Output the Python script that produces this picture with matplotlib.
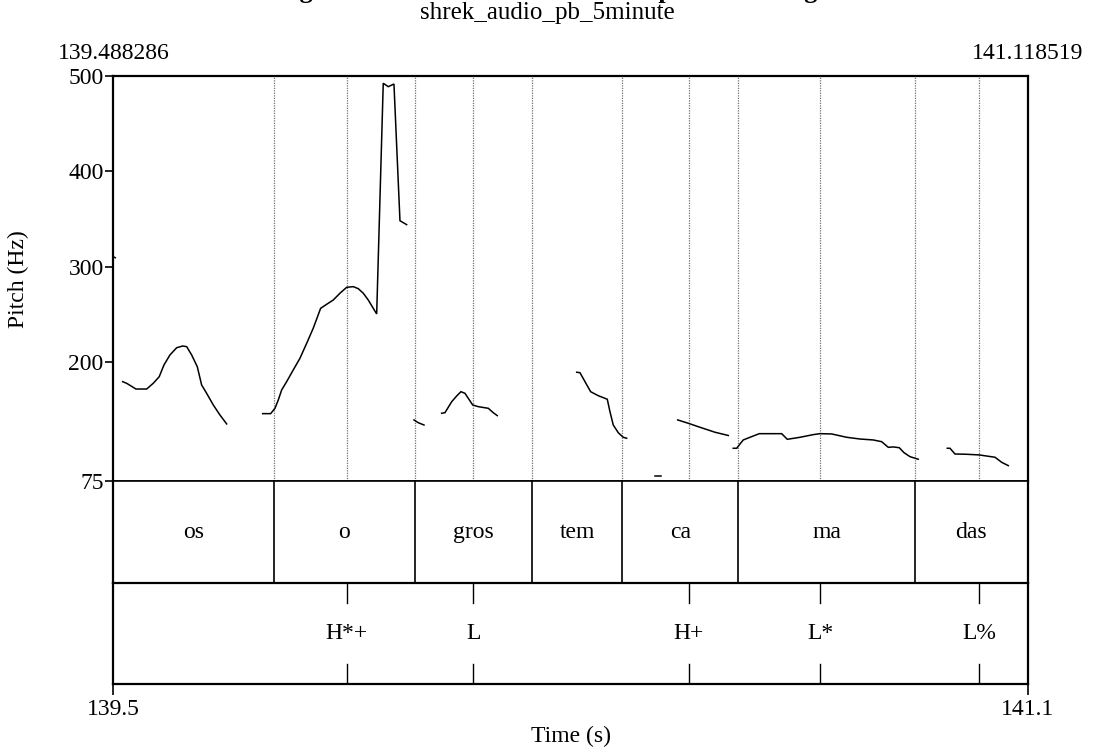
import matplotlib
matplotlib.use("Agg")
import matplotlib.pyplot as plt

plt.rcParams["font.family"] = ["Liberation Serif", "DejaVu Serif"]

# time range of the picture
t_start = 139.488286
t_end = 141.118519

# pitch track, one list pair per voiced stretch (time s, Hz)
seg_times = [
    [139.4883, 139.4915],
    [139.5047, 139.5118, 139.5284, 139.5475, 139.5592, 139.5699, 139.5783,
     139.5890, 139.6010, 139.6117, 139.6188, 139.6277, 139.6377, 139.6455,
     139.6544, 139.6662, 139.6781, 139.6901],
    [139.7543, 139.7685, 139.7762, 139.7821, 139.7881, 139.7970, 139.8088,
     139.8207, 139.8327, 139.8444, 139.8576, 139.8683, 139.8801, 139.8920,
     139.9040, 139.9158, 139.9247, 139.9336, 139.9425, 139.9514, 139.9575,
     139.9692, 139.9781, 139.9883, 139.9990, 140.0109],
    [140.0240, 140.0316, 140.0418],
    [140.0733, 140.0792, 140.0912, 140.1001, 140.1077, 140.1149, 140.1207,
     140.1286, 140.1386, 140.1564, 140.1653, 140.1724],
    [140.3140, 140.3199, 140.3288, 140.3389, 140.3525, 140.3685, 140.3733,
     140.3792, 140.3881, 140.3970, 140.4031],
    [140.4535, 140.4637],
    [140.4940, 140.5129, 140.5338, 140.5605, 140.5842],
    [140.5931, 140.5992, 140.6051, 140.6109, 140.6229, 140.6395, 140.6794,
     140.6894, 140.7120, 140.7357, 140.7477, 140.7685, 140.7953, 140.8190,
     140.8427, 140.8576, 140.8694, 140.8783, 140.8890, 140.8974, 140.9081,
     140.9229],
    [140.9746, 140.9794, 140.9883, 141.0092, 141.0316, 141.0596, 141.0715,
     141.0833],
]
seg_hz = [
    [310.5, 309.5],
    [179.6, 177.9, 171.9, 171.9, 177.9, 184.8, 197.1, 207.6, 215.2, 217.0,
     216.3, 207.6, 195.3, 176.1, 167.4, 155.2, 144.7, 135.3],
    [146.1, 146.1, 151.7, 160.4, 170.9, 179.6, 191.9, 204.1, 219.8, 235.6,
     256.5, 260.7, 265.2, 272.3, 278.5, 279.2, 277.1, 272.3, 265.2, 256.5,
     250.6, 492.4, 488.8, 491.6, 348.3, 344.2],
    [139.5, 136.6, 134.2],
    [146.5, 147.1, 158.6, 164.6, 169.1, 167.4, 162.2, 155.2, 153.4, 151.7,
     147.1, 144.0],
    [189.5, 189.0, 179.6, 169.1, 164.9, 161.2, 148.2, 134.2, 126.1, 121.3,
     120.3],
    [80.8, 80.8],
    [139.5, 136.0, 131.8, 126.6, 123.2],
    [109.8, 109.8, 114.3, 118.5, 121.3, 125.1, 125.1, 119.2, 121.3, 124.1,
     125.1, 124.8, 121.3, 119.5, 118.5, 116.7, 110.8, 111.2, 110.4, 105.2,
     101.0, 98.3],
    [109.8, 109.8, 103.8, 103.5, 102.8, 100.4, 95.1, 91.6],
]

# word tier (interval boundaries and labels)
word_bounds = [139.7744, 140.0257, 140.2338, 140.3953, 140.6020, 140.9165]
word_labels = ["os", "o", "gros", "tem", "ca", "ma", "das"]

# tone tier (points and labels)
tone_times = [139.9040, 140.1297, 140.5136, 140.7477, 141.0316]
tone_labels = ["H*+", "L", "H+", "L*", "L%"]

pitch_ticks = [75, 200, 300, 400, 500]

FS = 17
box_lw = 1.6

fig = plt.figure(figsize=(10.94, 7.51), dpi=100)
left, width = 0.1037, 0.836
ax = fig.add_axes([left, 0.3589, width, 0.5399])
ax_w = fig.add_axes([left, 0.2237, width, 0.1352])
ax_t = fig.add_axes([left, 0.0892, width, 0.1345])

for a in (ax, ax_w, ax_t):
    a.set_xlim(t_start, t_end)
    for s in a.spines.values():
        s.set_linewidth(box_lw)

# dotted guides at all tier boundaries and points
for t in word_bounds + tone_times:
    ax.axvline(t, color="0.45", linestyle=(0, (1, 1)), linewidth=0.9)

for ts, hz in zip(seg_times, seg_hz):
    ax.plot(ts, hz, color="black", linewidth=1.1, solid_joinstyle="miter")

ax.set_ylim(75, 500)
ax.set_yticks(pitch_ticks)
ax.set_yticklabels([str(v) for v in pitch_ticks], fontsize=FS)
ax.tick_params(axis="y", direction="out", length=6, width=1.2, pad=1)
ax.set_xticks([])
ax.spines["bottom"].set_linewidth(1.2)
ax.set_ylabel("Pitch (Hz)", fontsize=FS, labelpad=28)

# times of the window at the top
ax.text(0.0, 1.03, f"{t_start:.6f}", transform=ax.transAxes, ha="center",
        va="bottom", fontsize=FS)
ax.text(1.0, 1.03, f"{t_end:.6f}", transform=ax.transAxes, ha="center",
        va="bottom", fontsize=FS)
fig.text(0.5, 0.968, "shrek_audio_pb_5minute", ha="center", va="bottom",
         fontsize=FS + 1)
# headline lies above the picture; only its descenders show
fig.text(0.5, 1.002, "Figure 3. Intonation contour with pitch tracking",
         ha="center", va="baseline", fontsize=FS + 2, fontweight="bold")

# word tier
ax_w.set_ylim(0, 1)
ax_w.set_xticks([])
ax_w.set_yticks([])
ax_w.spines["top"].set_linewidth(1.2)
ax_w.spines["bottom"].set_linewidth(1.2)
edges = [t_start] + word_bounds + [t_end]
for t in word_bounds:
    ax_w.axvline(t, color="black", linewidth=1.2)
for a_, b_, lab in zip(edges[:-1], edges[1:], word_labels):
    ax_w.text((a_ + b_) / 2, 0.5, lab, ha="center", va="center", fontsize=FS)

# tone tier
ax_t.set_ylim(0, 1)
ax_t.set_yticks([])
for t, lab in zip(tone_times, tone_labels):
    ax_t.plot([t, t], [0.8, 1.0], color="black", linewidth=1.0)
    ax_t.plot([t, t], [0.0, 0.2], color="black", linewidth=1.0)
    ax_t.text(t, 0.5, lab, ha="center", va="center", fontsize=FS)
ax_t.set_xticks([t_start, t_end])
ax_t.set_xticklabels([f"{t_start:.1f}", f"{t_end:.1f}"], fontsize=FS)
ax_t.tick_params(axis="x", direction="out", length=8, width=1.2, pad=3)
ax_t.set_xlabel("Time (s)", fontsize=FS, labelpad=4)

fig.savefig("out.png", dpi=100)
